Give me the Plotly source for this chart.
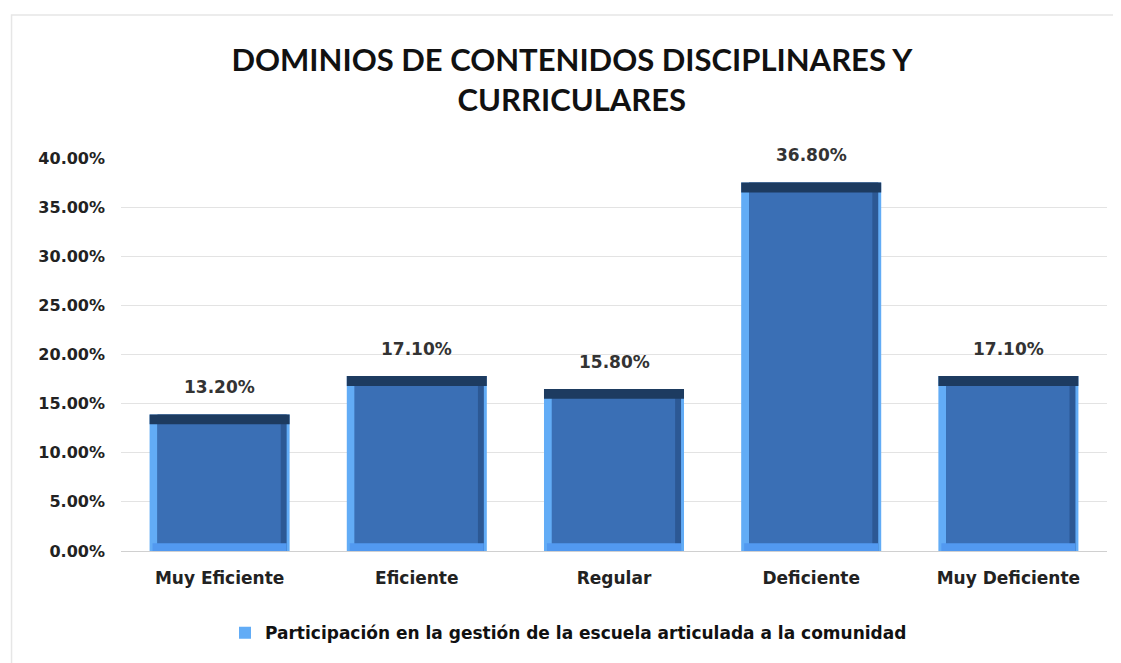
import plotly.graph_objects as go

CATEGORIAS = ['Muy Eficiente', 'Eficiente', 'Regular', 'Deficiente', 'Muy Deficiente']
PORCENTAJES = [13.20, 17.10, 15.80, 36.80, 17.10]
SERIE = 'Participación en la gestión de la escuela articulada a la comunidad'
TITULO = 'DOMINIOS DE CONTENIDOS DISCIPLINARES Y<br>CURRICULARES'

FONT = 'DejaVu Sans'
TITLE_FONT = 'Lato'
W = 0.71  # ancho de barra en unidades de categoria

fig = go.Figure()

# capa base (bordes claros del bisel)
fig.add_trace(go.Bar(
    x=CATEGORIAS, y=[v + 0.7 for v in PORCENTAJES], width=W, marker_color='#62acf6',
    marker_line_width=0, name=SERIE, showlegend=True, hoverinfo='skip',
))
# banda derecha oscura
fig.add_trace(go.Bar(
    x=CATEGORIAS, y=[v + 0.7 for v in PORCENTAJES], width=W - 0.055, offset=-W / 2 + 0.04,
    marker_color='#2c5894', marker_line_width=0, showlegend=False, hoverinfo='skip',
))
# cara central
fig.add_trace(go.Bar(
    x=CATEGORIAS, y=PORCENTAJES, base=0,
    width=W - 0.085, offset=-W / 2 + 0.04,
    marker_color='#3a6fb5', marker_line_width=0, showlegend=False, hoverinfo='skip',
))
# franja inferior clara
fig.add_trace(go.Bar(
    x=CATEGORIAS, y=[0.8] * len(CATEGORIAS), base=0,
    width=W - 0.03, offset=-W / 2 + 0.015,
    marker_color='#5299f0', marker_line_width=0, showlegend=False, hoverinfo='skip',
))
# franja superior oscura
fig.add_trace(go.Bar(
    x=CATEGORIAS, y=[1.0] * len(CATEGORIAS), base=[v - 0.3 for v in PORCENTAJES],
    width=W, marker_color='#1d3b60', marker_line_width=0, showlegend=False,
    customdata=PORCENTAJES, hovertemplate='%{x}: %{customdata:.2f}%<extra></extra>',
))

# etiquetas de datos
for cat, v in zip(CATEGORIAS, PORCENTAJES):
    fig.add_annotation(
        x=cat, y=v, xref='x', yref='y', text=f'{v:.2f}%', showarrow=False,
        yanchor='bottom', yshift=22,
        font=dict(family=FONT, size=17, color='#333333', weight='bold'),
    )

fig.update_layout(
    barmode='overlay',
    width=1121, height=663,
    margin=dict(l=113, r=22, t=150, b=120),
    paper_bgcolor='white', plot_bgcolor='white',
    font=dict(family=FONT, size=15, color='#222222'),
    title=dict(
        text=TITULO, x=0.503, xref='container', xanchor='center',
        y=0.905, yref='container', yanchor='top',
        font=dict(family=TITLE_FONT, size=31, color='#111111', weight='bold'),
    ),
    legend=dict(
        orientation='h', x=0.5, xref='container', xanchor='center',
        y=0.057, yref='container', yanchor='middle',
        font=dict(family=FONT, size=17, color='#111111', weight='bold'),
        itemwidth=30,
    ),
    xaxis=dict(
        showline=True, linecolor='#d0d0d0', linewidth=1, ticks='',
        tickfont=dict(family=FONT, size=17, color='#222222', weight='bold'),
        ticklabelstandoff=12,
    ),
    yaxis=dict(
        range=[0, 40], dtick=5, ticksuffix='%', tickformat='.2f',
        showgrid=True, gridcolor='#e3e3e3', zeroline=False,
        tickfont=dict(family=FONT, size=16, color='#222222', weight='bold'),
        ticklabelstandoff=15,
    ),
    shapes=[dict(type='rect', xref='paper', yref='paper', x0=-0.111, x1=1.05, y0=-0.4, y1=1.364,
                 line=dict(color='#e6e6e6', width=1.5), layer='below')],
)

fig.write_html('out.html')
